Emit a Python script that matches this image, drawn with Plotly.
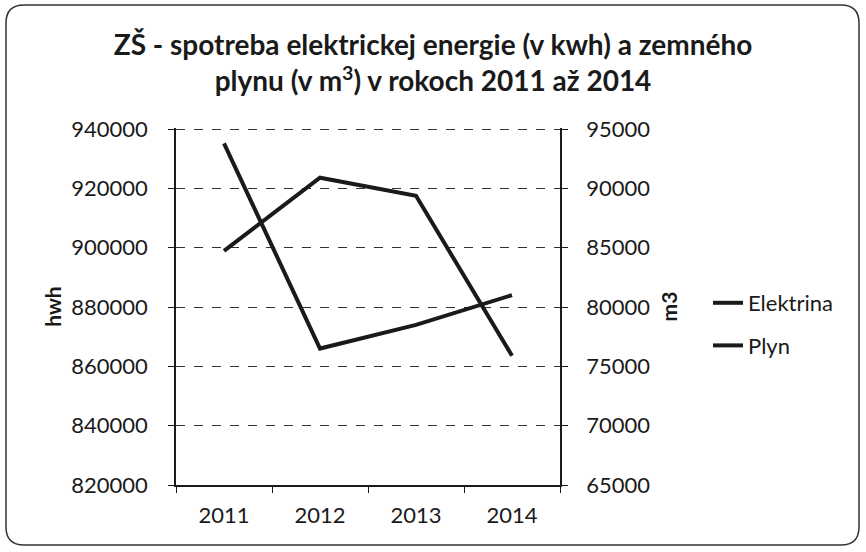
import plotly.graph_objects as go

roky = ['2011', '2012', '2013', '2014']
elektrina = [898900, 923600, 917500, 863600]   # kwh, left axis
plyn = [93800, 76500, 78500, 81000]            # m3, right axis

FONT = 'Lato'
INK = '#1a1a1a'

# plot area in pixels (866x552 page)
L, R, T, B = 176, 560, 128, 485
W, H = 866, 552


def px(x, y):
    # pixel -> paper coordinates of the plot area
    return (x - L) / (R - L), (B - y) / (B - T)


def rounded_box(x0, y0, x1, y1, r):
    pts = []
    a = px(x0 + r, y0); pts.append('M%f,%f' % a)
    b = px(x1 - r, y0); pts.append('L%f,%f' % b)
    c = px(x1, y0); d = px(x1, y0 + r); pts.append('Q%f,%f %f,%f' % (c + d))
    e = px(x1, y1 - r); pts.append('L%f,%f' % e)
    f = px(x1, y1); g = px(x1 - r, y1); pts.append('Q%f,%f %f,%f' % (f + g))
    h = px(x0 + r, y1); pts.append('L%f,%f' % h)
    i = px(x0, y1); j = px(x0, y1 - r); pts.append('Q%f,%f %f,%f' % (i + j))
    k = px(x0, y0 + r); pts.append('L%f,%f' % k)
    m = px(x0, y0); n = px(x0 + r, y0); pts.append('Q%f,%f %f,%f Z' % (m + n))
    return ' '.join(pts)


fig = go.Figure()
fig.add_trace(go.Scatter(x=roky, y=elektrina, name='Elektrina', mode='lines',
                         line=dict(color=INK, width=4), legendgroup='a'))
fig.add_trace(go.Scatter(x=roky, y=plyn, name='Plyn', mode='lines', yaxis='y2',
                         line=dict(color=INK, width=4), legendgroup='b'))

lx, ly = px(708, 282)

fig.update_layout(
    width=W, height=H,
    margin=dict(l=L, r=W - R, t=T, b=H - B),
    paper_bgcolor='white', plot_bgcolor='white',
    font=dict(family=FONT, size=22, color=INK),
    title=dict(
        text='<b>ZŠ - spotreba elektrickej energie (v kwh) a zemného<br>'
             'plynu (v m<sup>3</sup>) v rokoch 2011 až 2014</b>',
        x=0.5, xanchor='center', xref='container',
        y=1 - 55 / H, yanchor='top', yref='container',
        font=dict(family=FONT, size=28, color=INK),
    ),
    xaxis=dict(
        type='category', range=[-0.5, 3.5], tickson='boundaries',
        ticks='outside', ticklen=6, tickcolor=INK,
        showline=True, linecolor=INK, linewidth=1.5,
        showgrid=False, zeroline=False, ticklabelstandoff=10,
    ),
    yaxis=dict(
        range=[820000, 940350], dtick=20000, tickformat='d',
        ticks='outside', ticklen=6, tickcolor=INK,
        showline=True, linecolor=INK, linewidth=1.5,
        showgrid=True, gridcolor='#333', griddash='dash', gridwidth=1,
        zeroline=False, ticklabelstandoff=16,
        title=dict(text='<b>hwh</b>', standoff=4, font=dict(size=21)),
    ),
    yaxis2=dict(
        range=[65000, 95088], dtick=5000, tickformat='d', overlaying='y',
        side='right', ticks='outside', ticklen=6, tickcolor=INK,
        showline=True, linecolor=INK, linewidth=1.5, showgrid=False,
        zeroline=False, ticklabelstandoff=14,
        title=dict(text='<b>m3</b>', standoff=13, font=dict(size=21)),
    ),
    legend=dict(x=lx, y=ly, xanchor='left', yanchor='top',
                bgcolor='rgba(0,0,0,0)', tracegroupgap=11,
                font=dict(family=FONT, size=22, color=INK)),
    shapes=[dict(type='path', xref='paper', yref='paper',
                 path=rounded_box(6, 5, 859, 545, 18),
                 line=dict(color='#333', width=1.5), layer='below')],
)

# page body has a default margin; drop it so the figure sits at 0,0
fig.write_html('out.html', config={'displayModeBar': False},
               post_script="document.body.style.margin='0';")
